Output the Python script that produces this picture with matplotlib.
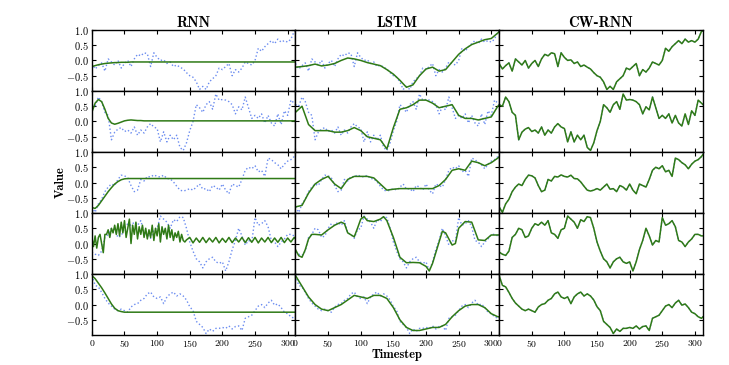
import numpy as np
import matplotlib
matplotlib.use('Agg')
from matplotlib import pyplot as plt

plt.rcParams['mathtext.fontset'] = 'cm'

# timesteps for the target curves (read every 5 steps)
steps = np.arange(0, 320, 5)
steps10 = list(range(0, 320, 10)) + [315]

target1 = [-0.1, -0.28, -0.17, -0.08, -0.35, 0.05, -0.05, -0.15, 0.0, -0.25,
           -0.1, 0.0, -0.2, 0.05, 0.2, 0.15, 0.25, 0.22, -0.2, 0.25,
           0.1, 0.0, 0.02, -0.1, -0.05, -0.2, -0.15, -0.22, -0.28, -0.4,
           -0.5, -0.55, -0.7, -0.95, -0.85, -0.95, -0.7, -0.6, -0.5, -0.25,
           -0.3, -0.2, -0.1, -0.5, -0.3, -0.38, -0.25, -0.05, -0.1, -0.15,
           0.0, 0.4, 0.3, 0.45, 0.55, 0.65, 0.55, 0.7, 0.6, 0.65,
           0.6, 0.7, 0.95, 1.0]
target2 = [0.55, 0.5, 0.8, 0.65, 0.3, 0.2, -0.6, -0.35, -0.25, -0.2,
           -0.33, -0.28, -0.38, -0.18, -0.45, -0.28, -0.38, -0.18, -0.07, -0.18,
           -0.23, -0.67, -0.34, -0.67, -0.45, -0.6, -0.45, -0.85, -0.95, -0.7,
           -0.3, 0.0, 0.55, 0.45, 0.3, 0.55, 0.65, 0.4, 0.9, 0.7,
           0.72, 0.7, 0.65, 0.55, 0.25, 0.48, 0.38, 0.8, 0.45, 0.1,
           0.2, 0.1, 0.25, -0.05, 0.2, -0.05, -0.15, 0.25, -0.1, 0.35,
           0.2, 0.7, 0.6, 0.5]
target3 = [-0.8, -0.98, -0.7, -0.55, -0.3, -0.15, -0.05, -0.1, 0.1, 0.24,
           0.22, 0.15, -0.1, -0.3, -0.25, 0.1, 0.05, 0.2, 0.18, 0.25,
           0.2, 0.18, 0.24, 0.13, 0.12, 0.02, -0.12, -0.25, -0.28, -0.25,
           -0.2, -0.25, -0.15, -0.05, -0.22, -0.2, -0.3, -0.1, -0.15, -0.25,
           -0.05, -0.25, -0.37, -0.05, -0.1, -0.15, 0.1, 0.4, 0.5, 0.45,
           0.55, 0.35, 0.4, 0.2, 0.8, 0.75, 0.65, 0.58, 0.45, 0.6,
           0.7, 0.75, 0.85, 1.0]
target4 = [-0.28, -0.35, -0.39, -0.25, 0.2, 0.3, 0.5, 0.45, 0.2, 0.25,
           0.5, 0.65, 0.6, 0.7, 0.6, 0.75, 0.35, 0.3, 0.17, 0.45,
           0.5, 0.9, 0.8, 0.7, 0.5, 0.78, 0.72, 0.88, 0.85, 0.5,
           0.05, -0.25, -0.5, -0.6, -0.8, -0.6, -0.5, -0.45, -0.6, -0.65,
           -0.6, -0.9, -0.6, -0.2, 0.1, 0.5, 0.25, -0.05, 0.1, 0.05,
           0.85, 0.6, 0.65, 0.75, 0.55, 0.1, 0.05, -0.1, 0.05, 0.15,
           0.3, 0.3, 0.25, 0.25]
target5 = [0.95, 0.63, 0.58, 0.4, 0.2, 0.05, -0.05, -0.15, -0.2, -0.15,
           -0.2, -0.25, -0.08, 0.0, 0.03, 0.14, 0.2, 0.35, 0.41, 0.25,
           0.2, 0.25, 0.03, 0.25, 0.35, 0.41, 0.28, 0.35, 0.28, 0.15,
           -0.07, -0.2, -0.55, -0.65, -0.75, -0.95, -0.8, -0.88, -0.78, -0.78,
           -0.75, -0.78, -0.7, -0.8, -0.72, -0.7, -0.85, -0.45, -0.4, -0.35,
           -0.2, -0.05, 0.0, -0.1, 0.05, 0.14, -0.02, 0.02, -0.1, -0.25,
           -0.3, -0.4, -0.45, -0.35]

# RNN predictions
rnn1 = [-0.2, -0.17, -0.14, -0.12, -0.1, -0.09, -0.08, -0.07, -0.07, -0.06,
        -0.06, -0.06, -0.05, -0.05, -0.05, -0.05, -0.05, -0.05, -0.05, -0.05,
        -0.05, -0.05, -0.05, -0.05, -0.05, -0.05, -0.05, -0.05, -0.05, -0.05,
        -0.05, -0.05, -0.05, -0.05, -0.05, -0.05, -0.05, -0.05, -0.05, -0.05,
        -0.05, -0.05, -0.05, -0.05, -0.05, -0.05, -0.05, -0.05, -0.05, -0.05,
        -0.05, -0.05, -0.05, -0.05, -0.05, -0.05, -0.05, -0.05, -0.05, -0.05,
        -0.05, -0.05, -0.05, -0.05]
rnn2 = [0.3, 0.6, 0.72, 0.65, 0.4, 0.1, -0.05, -0.09, -0.06, -0.02,
        0.02, 0.04, 0.05, 0.04, 0.03, 0.03, 0.02, 0.02, 0.02, 0.02,
        0.02, 0.02, 0.02, 0.02, 0.02, 0.02, 0.02, 0.02, 0.02, 0.02,
        0.02, 0.02, 0.02, 0.02, 0.02, 0.02, 0.02, 0.02, 0.02, 0.02,
        0.02, 0.02, 0.02, 0.02, 0.02, 0.02, 0.02, 0.02, 0.02, 0.02,
        0.02, 0.02, 0.02, 0.02, 0.02, 0.02, 0.02, 0.02, 0.02, 0.02,
        0.02, 0.02, 0.02, 0.02]
rnn3 = [-0.82, -0.85, -0.75, -0.6, -0.45, -0.3, -0.17, -0.05, 0.03, 0.09,
        0.12, 0.13, 0.13, 0.13, 0.13, 0.13, 0.13, 0.13, 0.13, 0.13,
        0.13, 0.13, 0.13, 0.13, 0.13, 0.13, 0.13, 0.13, 0.13, 0.13,
        0.13, 0.13, 0.13, 0.13, 0.13, 0.13, 0.13, 0.13, 0.13, 0.13,
        0.13, 0.13, 0.13, 0.13, 0.13, 0.13, 0.13, 0.13, 0.13, 0.13,
        0.13, 0.13, 0.13, 0.13, 0.13, 0.13, 0.13, 0.13, 0.13, 0.13,
        0.13, 0.13, 0.13, 0.13]
rnn5 = [0.95, 0.85, 0.7, 0.55, 0.38, 0.2, 0.02, -0.12, -0.2, -0.23,
        -0.25, -0.25, -0.25, -0.25, -0.25, -0.25, -0.25, -0.25, -0.25, -0.25,
        -0.25, -0.25, -0.25, -0.25, -0.25, -0.25, -0.25, -0.25, -0.25, -0.25,
        -0.25, -0.25, -0.25, -0.25, -0.25, -0.25, -0.25, -0.25, -0.25, -0.25,
        -0.25, -0.25, -0.25, -0.25, -0.25, -0.25, -0.25, -0.25, -0.25, -0.25,
        -0.25, -0.25, -0.25, -0.25, -0.25, -0.25, -0.25, -0.25, -0.25, -0.25,
        -0.25, -0.25, -0.25, -0.25]
# row 4 RNN is noisy: every 2.5 steps up to 142.5, then every 5
rnn4_steps = list(np.arange(0, 145, 2.5)) + list(range(145, 320, 5))
rnn4 = [0.2, -0.1, 0.25, -0.15, 0.2, 0.3, 0.0, -0.3, 0.3, 0.3,
        0.45, 0.2, 0.5, 0.35, 0.6, 0.3, 0.65, 0.25, 0.7, 0.35,
        0.75, 0.2, 0.5, 0.8, 0.0, 0.6, 0.3, 0.7, 0.15, 0.55,
        0.3, 0.6, 0.2, 0.5, 0.15, 0.45, 0.2, 0.6, 0.1, 0.5,
        0.25, 0.65, 0.05, 0.55, 0.3, 0.5, 0.15, 0.6, 0.2, 0.45,
        0.1, 0.35, 0.2, 0.4, 0.05, 0.3, 0.1, 0.05,
        0.12, 0.2, 0.02, 0.18, 0.04, 0.2, 0.03, 0.18, 0.05, 0.2,
        0.02, 0.17, 0.04, 0.2, 0.03, 0.18, 0.05, 0.2, 0.03, 0.19,
        0.04, 0.2, 0.02, 0.18, 0.05, 0.2, 0.03, 0.18, 0.04, 0.2,
        0.03, 0.18, 0.05, 0.2, 0.1]

# LSTM predictions
lstm1 = [-0.22, -0.2, -0.17, -0.12, -0.18, -0.15, -0.1, 0.0, 0.08, 0.05,
         0.0, -0.07, -0.12, -0.17, -0.3, -0.45, -0.65, -0.88, -0.8, -0.5,
         -0.28, -0.22, -0.35, -0.3, -0.05, 0.2, 0.38, 0.52, 0.6, 0.68,
         0.72, 0.9, 1.0]
lstm2 = [0.3, 0.5, -0.1, -0.3, -0.3, -0.3, -0.35, -0.35, -0.3, -0.2,
         -0.3, -0.5, -0.55, -0.6, -0.9, -0.2, 0.4, 0.45, 0.55, 0.7,
         0.7, 0.6, 0.45, 0.5, 0.55, 0.2, 0.1, 0.1, 0.05, 0.1,
         0.15, 0.5, 0.6]
lstm3 = [-0.8, -0.75, -0.35, -0.05, 0.1, 0.2, -0.05, -0.2, 0.1, 0.2,
         0.2, 0.2, 0.15, -0.05, -0.25, -0.22, -0.2, -0.2, -0.2, -0.2,
         -0.2, -0.2, -0.1, 0.1, 0.4, 0.45, 0.4, 0.7, 0.65, 0.55,
         0.65, 0.8, 0.9]
lstm4_steps = [0, 5, 10, 15, 20, 25, 30, 40, 50, 60, 70, 75, 80, 90, 95, 100, 105,
               110, 120, 130, 135, 140, 150, 160, 170, 180, 190, 200, 205, 210,
               220, 225, 230, 240, 245, 250, 260, 270, 280, 290, 300, 310, 315]
lstm4 = [-0.2, -0.4, -0.45, -0.2, 0.15, 0.3, 0.3, 0.28, 0.45, 0.6, 0.7, 0.65,
         0.35, 0.22, 0.5, 0.8, 0.88, 0.75, 0.72, 0.8, 0.88, 0.75, 0.2, -0.45,
         -0.63, -0.62, -0.63, -0.75, -0.9, -0.65, 0.05, 0.4, 0.35, -0.05, 0.0,
         0.5, 0.72, 0.7, 0.12, 0.1, 0.28, 0.28, 0.28]
lstm5 = [0.95, 0.6, 0.25, 0.0, -0.15, -0.2, -0.1, 0.0, 0.15, 0.3,
         0.25, 0.2, 0.3, 0.3, 0.2, -0.1, -0.5, -0.75, -0.85, -0.85,
         -0.8, -0.75, -0.75, -0.65, -0.4, -0.2, -0.05, 0.0, 0.0, -0.1,
         -0.3, -0.4, -0.4]

# CW-RNN follows the target almost exactly
cw1, cw2, cw3, cw4, cw5 = target1, target2, target3, target4, target5

titles = ['RNN', 'LSTM', 'CW-RNN']
targets = [target1, target2, target3, target4, target5]
rnn = [(steps, rnn1), (steps, rnn2), (steps, rnn3), (rnn4_steps, rnn4), (steps, rnn5)]
lstm = [(steps10, lstm1), (steps10, lstm2), (steps10, lstm3), (lstm4_steps, lstm4), (steps10, lstm5)]
cw = [(steps, cw1), (steps, cw2), (steps, cw3), (steps, cw4), (steps, cw5)]

blue = '#6b8cf0'
green = '#2f7a16'

fig, axes = plt.subplots(5, 3, figsize=(7.29, 3.65), dpi=100)
fig.subplots_adjust(left=0.126, right=0.964, top=0.918, bottom=0.082, hspace=0, wspace=0)

for r in range(5):
    for c in range(3):
        ax = axes[r, c]
        ax.plot(steps, targets[r], ls=':', color=blue, lw=1.0)
        px, py = [rnn, lstm, cw][c][r]
        ax.plot(px, py, color=green, lw=1.1)
        ax.set_xlim(0, 312)
        ax.set_ylim(-1, 1)
        ax.tick_params(direction='in', top=True, right=True, length=3, width=0.8,
                       labelsize=7.5, pad=2)
        ax.tick_params(axis='x', labelsize=7)
        for s in ax.spines.values():
            s.set_linewidth(1.0)
        ax.set_xticks([0, 50, 100, 150, 200, 250, 300])
        ax.set_yticks([-0.5, 0.0, 0.5, 1.0])
        if r == 4:
            ax.set_xticklabels(['$%d$' % v for v in [0, 50, 100, 150, 200, 250, 300]])
        else:
            ax.set_xticklabels([])
        if c == 0:
            ax.set_yticklabels(['$-0.5$', '$0.0$', '$0.5$', '$1.0$'])
        else:
            ax.set_yticklabels([])
        if r == 0:
            ax.set_title(titles[c], family='cmb10', fontsize=10.5, pad=2)

fig.text(0.083, 0.5, 'Value', family='cmb10', fontsize=9, rotation=90, ha='center', va='center')
fig.text(0.545, 0.028, 'Timestep', family='cmb10', fontsize=9, ha='center', va='center')

plt.savefig('out.png', dpi=100)
